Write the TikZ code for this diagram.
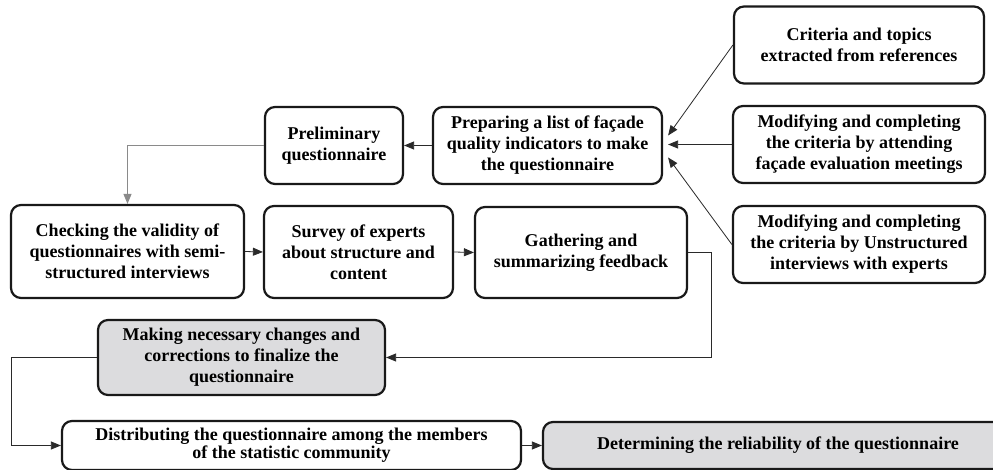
\documentclass[tikz,border=0pt]{standalone}
\usepackage{fontspec}
\setmainfont{Liberation Serif}
\usetikzlibrary{arrows.meta,calc}
\definecolor{boxgray}{HTML}{DCDCDE}
\definecolor{linegray}{HTML}{8A8A8A}
\definecolor{linedark}{HTML}{2A2A2A}
\tikzset{
  box/.style={draw=black!90, line width=2.2pt, rounded corners=10pt, align=center,
    font=\bfseries\fontsize{18}{21}\selectfont, inner sep=0pt, fill=white},
  graybox/.style={box, fill=boxgray},
  conn/.style={draw=linedark, line width=0.8pt, -{Triangle[length=10pt,width=8pt]}},
  connlight/.style={draw=linegray, line width=0.9pt, -{Triangle[length=10pt,width=8pt]}}
}
\begin{document}
\begin{tikzpicture}[x=1pt,y=-1pt]
\useasboundingbox (0,0) rectangle (993,470);
\fill[white] (0,0) rectangle (993,470);
\node[box, minimum width=250pt, minimum height=77pt] (crit) at (859,45)
  {Criteria and topics\\extracted from references};
\node[box, minimum width=252pt, minimum height=77pt] (attend) at (859,144.5)
  {Modifying and completing\\the criteria by attending\\façade evaluation meetings};
\node[box, minimum width=252pt, minimum height=77pt] (unstr) at (859,244.5)
  {Modifying and completing\\the criteria by Unstructured\\interviews with experts};
\node[box, minimum width=229pt, minimum height=77pt] (prep) at (547.5,145.5)
  {Preparing a list of façade\\quality indicators to make\\the questionnaire};
\node[box, minimum width=138pt, minimum height=77pt] (prelim) at (334,145.5)
  {Preliminary\\questionnaire};
\node[box, minimum width=233pt, minimum height=93pt] (check) at (127.5,251.5)
  {Checking the validity of\\questionnaires with semi-\\structured interviews};
\node[box, minimum width=189pt, minimum height=92pt] (survey) at (358.5,252)
  {Survey of experts\\about structure and\\content};
\node[box, minimum width=212pt, minimum height=91pt] (gather) at (581,252.5)
  {Gathering and\\summarizing feedback};
\node[graybox, minimum width=287pt, minimum height=75pt] (making) at (241.5,357.5)
  {Making necessary changes and\\corrections to finalize the\\questionnaire};
\node[box, minimum width=459pt, minimum height=49pt, font=\bfseries\fontsize{18}{16}\selectfont] (distrib) at (291.5,445.5)
  {Distributing the questionnaire among the members\\of the statistic community};
\node[graybox, minimum width=470pt, minimum height=47pt] (determ) at (778,445.5)
  {Determining the reliability of the questionnaire};

\coordinate (g1) at (711,0);
\coordinate (m1) at (11,0);

\draw[conn] (prep.west) -- (prelim.east);
\draw[connlight] (prelim.west) -| (check.north);
\draw[conn] (crit.west) -- ([xshift=5pt,yshift=10pt]prep.east);
\draw[conn] (attend.west) -- ([xshift=5pt]prep.east |- attend.west);
\draw[conn] (unstr.west) -- ([xshift=5pt,yshift=-12pt]prep.east);
\draw[conn] (check.east) -- (survey.west);
\draw[conn] (survey.east) -- (gather.west);
\draw[conn] (gather.east) -- (gather.east -| g1) |- (making.east);
\draw[conn] (making.west) -- (making.west -| m1) |- (distrib.west);
\draw[conn] (distrib.east) -- (determ.west);
\end{tikzpicture}
\end{document}
